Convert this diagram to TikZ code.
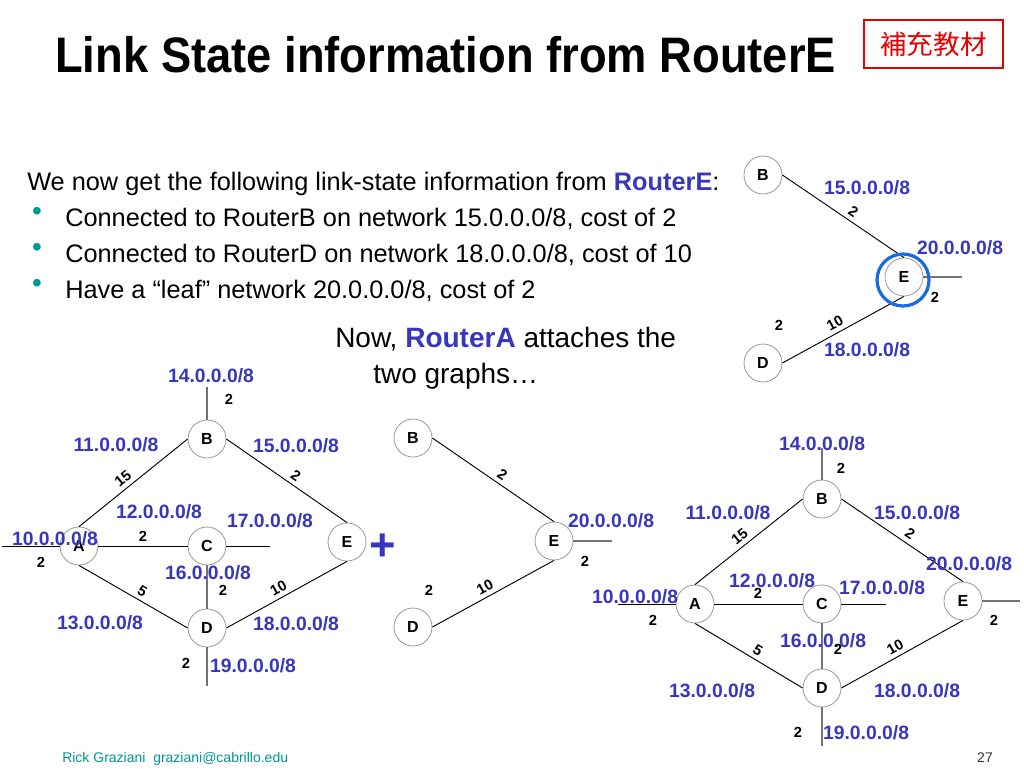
\documentclass[tikz,border=0pt]{standalone}
\usepackage{fontspec}
\setmainfont{Liberation Sans}
\newfontfamily\cjk{Noto Sans CJK TC}
\definecolor{netblue}{RGB}{55,55,190}
\definecolor{tealc}{RGB}{0,150,150}
\definecolor{ringblue}{RGB}{25,105,230}
\definecolor{redc}{RGB}{230,0,0}
\tikzset{
  router/.style={circle, draw=black!40, line width=0.6pt, fill=white, minimum size=28.5pt, inner sep=0pt,
     font=\fontsize{12}{12}\selectfont\bfseries},
  net/.style={text=netblue, font=\fontsize{14.5}{14.5}\selectfont\bfseries, inner sep=0pt},
  cost/.style={font=\fontsize{11}{11}\selectfont\bfseries, inner sep=0pt},
  costs/.style={cost, sloped, above=3pt},
  link/.style={draw=black, line width=0.7pt},
  stub/.style={draw=black!55, line width=1pt},
  body/.style={font=\fontsize{19}{19}\selectfont, inner sep=0pt},
  bul/.style={text=tealc, font=\fontsize{21}{21}\selectfont, inner sep=0pt}
}
\begin{document}
\begin{tikzpicture}[x=0.75pt,y=-0.75pt]
\useasboundingbox (0,0) rectangle (1024,768);
\fill[white] (0,0) rectangle (1024,768);

% ---- title and red box
\node[anchor=base west, inner sep=0pt, font=\fontsize{34}{34}\selectfont\bfseries] (title) at (55,72)
  {\scalebox{1}[1.1]{Link State information from RouterE}};
\node[draw=redc, line width=1.6pt, minimum width=104pt, minimum height=36pt, inner sep=0pt,
  text=redc, font=\cjk\fontsize{20}{20}\selectfont] (tag) at (933.5,44) {補充教材};

% ---- body text
\node[body, anchor=base west] (l1) at (27,190) {We now get the following link-state information from \textcolor{netblue}{\bfseries RouterE}:};
\node[bul] (b1) at (37,214) {•};
\node[body, anchor=base west] (l2) at (65,226) {Connected to RouterB on network 15.0.0.0/8, cost of 2};
\node[bul] (b2) at (37,250) {•};
\node[body, anchor=base west] (l3) at (65,262) {Connected to RouterD on network 18.0.0.0/8, cost of 10};
\node[bul] (b3) at (37,286) {•};
\node[body, anchor=base west] (l4) at (65,298) {Have a “leaf” network 20.0.0.0/8, cost of 2};
\node[anchor=base west, inner sep=0pt, font=\fontsize{21}{21}\selectfont] (n1) at (335,347) {Now, \textcolor{netblue}{\bfseries RouterA} attaches the};
\node[anchor=base west, inner sep=0pt, font=\fontsize{21}{21}\selectfont] (n2) at (373,383) {two graphs…};

% ---- footer
\node[anchor=base west, inner sep=0pt, text=tealc, font=\fontsize{10.5}{10.5}\selectfont] (foot) at (62,762) {Rick Graziani\ \ graziani@cabrillo.edu};
\node[anchor=base, inner sep=0pt, text=black!80, font=\fontsize{10.5}{10.5}\selectfont] (pg) at (985,762) {27};

% =========== Graph 1 (left, full)
\node[router] (B1) at (207,439) {B};
\node[router] (A1) at (79,546) {A};
\node[router] (C1) at (207,546) {C};
\node[router] (E1) at (347,542) {E};
\node[router] (D1) at (207,628) {D};
\coordinate (B1t) at (207,387);
\coordinate (D1b) at (207,686);
\coordinate (A1l) at (2,546);
\coordinate (C1r) at (270,546);
\draw[stub] (B1.north) -- (B1t);
\draw[stub] (D1.south) -- (D1b);
\draw[stub] (C1.south) -- (D1.north);
\draw[link] (A1l) -- (A1.west);
\draw[link] (C1.east) -- (C1r);
\draw[link] (A1.east) -- (C1.west);
\draw[link] (A1.north) -- node[costs, pos=0.46] {15} (B1.west);
\draw[link] (B1.east) -- node[costs, pos=0.53] {2} (E1.north);
\draw[link] (A1.south) -- node[costs, pos=0.54] {5} (D1.west);
\draw[link] (D1.east) -- node[costs, pos=0.47] {10} (E1.south);
\node[net] (g1n14) at (211,376) {14.0.0.0/8};
\node[cost] (g1c14) at (229,399) {2};
\node[net] (g1n11) at (116,445) {11.0.0.0/8};
\node[net] (g1n15) at (296,446) {15.0.0.0/8};
\node[net] (g1n12) at (159,512) {12.0.0.0/8};
\node[net] (g1n17) at (270,521) {17.0.0.0/8};
\node[net] (g1n10) at (55,539) {10.0.0.0/8};
\node[cost] (g1c12) at (143,536) {2};
\node[cost] (g1c10) at (41,562) {2};
\node[net] (g1n16) at (208,573) {16.0.0.0/8};
\node[cost] (g1c16) at (223,590) {2};
\node[net] (g1n13) at (100,623) {13.0.0.0/8};
\node[net] (g1n18) at (296,624) {18.0.0.0/8};
\node[cost] (g1c19) at (186,663) {2};
\node[net] (g1n19) at (253,666) {19.0.0.0/8};

% plus sign
\node[text=netblue, inner sep=0pt, font=\fontsize{34}{34}\selectfont\bfseries] (plus) at (383,547) {+};

% =========== Graph 2 (middle)
\node[router] (B2) at (413,438) {B};
\node[router] (E2) at (554,541) {E};
\node[router] (D2) at (413,627) {D};
\coordinate (E2r) at (612,541);
\draw[stub] (E2.east) -- (E2r);
\draw[link] (B2.east) -- node[costs, pos=0.53] {2} (E2.north);
\draw[link] (D2.east) -- node[costs, pos=0.47] {10} (E2.south);
\node[net] (g2n20) at (611,521) {20.0.0.0/8};
\node[cost] (g2c20) at (585,561) {2};
\node[cost] (g2cd) at (429,590) {2};

% =========== Graph 3 (top right, RouterE)
\node[router] (B3) at (763,175) {B};
\node[router] (E3) at (904,277) {E};
\node[router] (D3) at (763,363) {D};
\coordinate (E3r) at (962,277);
\draw[stub] (E3.east) -- (E3r);
\draw[link] (B3.east) -- node[costs, pos=0.54] {2} (E3.north);
\draw[link] (D3.east) -- node[costs, pos=0.47] {10} (E3.south);
\node[circle, draw=ringblue, line width=2.4pt, minimum size=39pt, inner sep=0pt] (ring) at (903,280) {};
\node[net] (g3n15) at (867,188) {15.0.0.0/8};
\node[net] (g3n20) at (960,248) {20.0.0.0/8};
\node[cost] (g3c20) at (935,297) {2};
\node[cost] (g3cd) at (779,325) {2};
\node[net] (g3n18) at (867,350) {18.0.0.0/8};

% =========== Graph 4 (bottom right, combined)
\node[router] (B4) at (822,499) {B};
\node[router] (A4) at (695,604) {A};
\node[router] (C4) at (822,604) {C};
\node[router] (E4) at (963,601) {E};
\node[router] (D4) at (822,688) {D};
\coordinate (B4t) at (822,448);
\coordinate (D4b) at (822,746);
\coordinate (A4l) at (618,604);
\coordinate (C4r) at (886,604);
\coordinate (E4r) at (1020,601);
\draw[stub] (B4.north) -- (B4t);
\draw[stub] (D4.south) -- (D4b);
\draw[stub] (C4.south) -- (D4.north);
\draw[link] (A4l) -- (A4.west);
\draw[link] (C4.east) -- (C4r);
\draw[stub] (E4.east) -- (E4r);
\draw[link] (A4.east) -- (C4.west);
\draw[link] (A4.north) -- node[costs, pos=0.47] {15} (B4.west);
\draw[link] (B4.east) -- node[costs, pos=0.52] {2} (E4.north);
\draw[link] (A4.south) -- node[costs, pos=0.54] {5} (D4.west);
\draw[link] (D4.east) -- node[costs, pos=0.48] {10} (E4.south);
\node[net] (g4n14) at (822,444) {14.0.0.0/8};
\node[cost] (g4c14) at (841,468) {2};
\node[net] (g4n11) at (728,513) {11.0.0.0/8};
\node[net] (g4n15) at (917,513) {15.0.0.0/8};
\node[net] (g4n20) at (969,564) {20.0.0.0/8};
\node[net] (g4n12) at (772,581) {12.0.0.0/8};
\node[cost] (g4c12) at (758,593) {2};
\node[net] (g4n17) at (882,588) {17.0.0.0/8};
\node[net] (g4n10) at (635,597) {10.0.0.0/8};
\node[cost] (g4c10) at (653,620) {2};
\node[cost] (g4c20) at (994,620) {2};
\node[net] (g4n16) at (823,641) {16.0.0.0/8};
\node[cost] (g4c16) at (838,649) {2};
\node[net] (g4n13) at (712,691) {13.0.0.0/8};
\node[net] (g4n18) at (917,691) {18.0.0.0/8};
\node[cost] (g4c19) at (798,732) {2};
\node[net] (g4n19) at (866,733) {19.0.0.0/8};
\end{tikzpicture}
\end{document}
